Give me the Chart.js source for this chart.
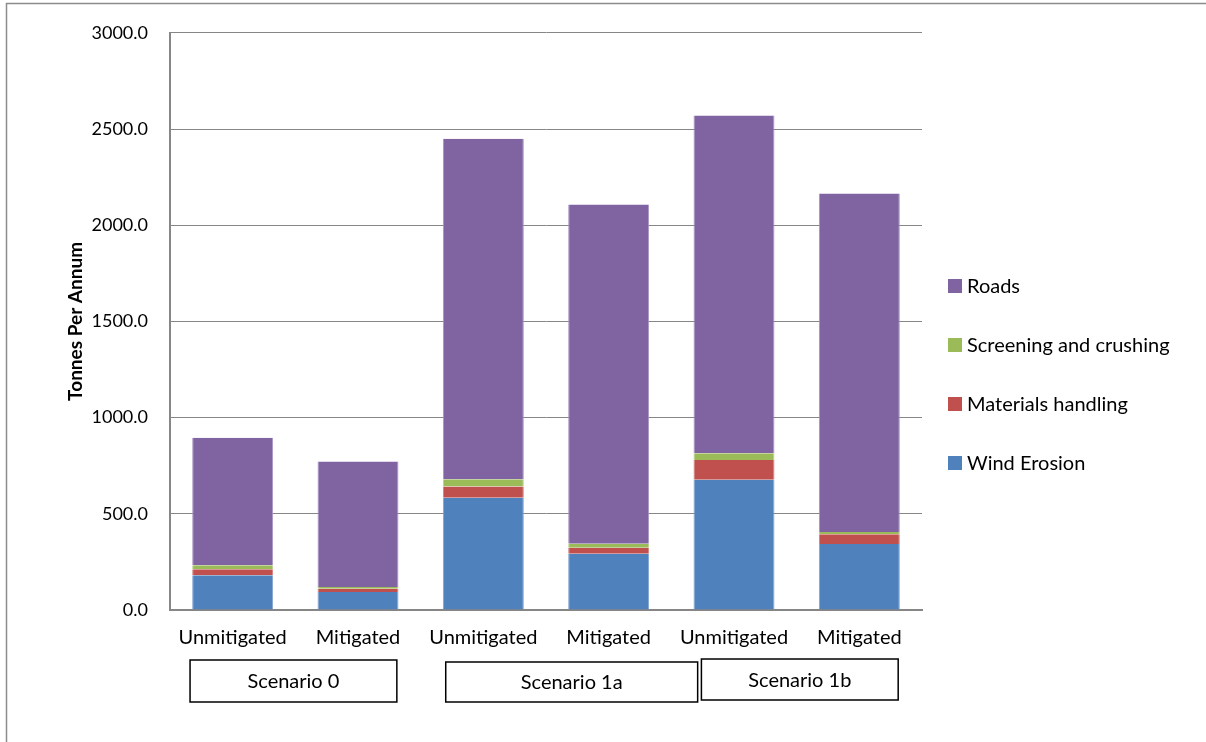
<!DOCTYPE html>
<html>
<head>
<meta charset="utf-8">
<script src="https://cdn.jsdelivr.net/npm/chart.js@4/dist/chart.umd.min.js"></script>
<style>
  html, body { margin: 0; padding: 0; background: #fff; }
  #box { width: 1206px; height: 742px; position: relative; }
</style>
</head>
<body>
<div id="box"><canvas id="DustChart" width="1206" height="742"></canvas></div>
<script>
// categories along the x axis
var cases = ["Unmitigated", "Mitigated", "Unmitigated", "Mitigated", "Unmitigated", "Mitigated"];
var scenarios = ["Scenario 0", "Scenario 1a", "Scenario 1b"];

// emissions per source, tonnes per annum
var windErosion = [180, 93, 584, 292, 677, 343];
var materialsHandling = [32, 17, 58, 31, 102, 51];
var screeningCrushing = [20, 10, 37, 21, 36, 12];
var roads = [663, 652, 1770, 1763, 1755, 1759];

var yTicks = [0, 500, 1000, 1500, 2000, 2500, 3000];

var FONT = "Lato, 'DejaVu Sans', sans-serif";
var GRID = "#868686";

// scenario boxes under the category labels, spans given in category units
var scenarioSpans = [
    { from: -0.34, to: 1.31, top: 660, bottom: 702 },
    { from: 1.70, to: 3.71, top: 662, bottom: 702 },
    { from: 3.74, to: 5.31, top: 659, bottom: 700 }
];

const scenarioBoxes = {
    id: "scenarioBoxes",
    afterDraw(chart) {
        const c = chart.ctx;
        const x = chart.scales.x;
        const step = x.getPixelForValue(1) - x.getPixelForValue(0);
        const x0 = x.getPixelForValue(0);
        c.save();
        c.strokeStyle = "#000";
        c.lineWidth = 1.5;
        c.fillStyle = "#000";
        c.font = "20px " + FONT;
        c.textAlign = "center";
        c.textBaseline = "middle";
        scenarios.forEach((name, i) => {
            let s = scenarioSpans[i];
            let l = x0 + s.from * step;
            let r = x0 + s.to * step;
            c.strokeRect(l, s.top, r - l, s.bottom - s.top);
            c.fillText(name, (l + r) / 2, (s.top + s.bottom) / 2 + 1);
        });
        c.restore();
    }
};

// legend on the right, top to bottom in reverse stacking order
const sideLegend = {
    id: "sideLegend",
    afterDraw(chart) {
        const c = chart.ctx;
        const sets = chart.data.datasets.slice().reverse();
        c.save();
        c.font = "20px " + FONT;
        c.textBaseline = "middle";
        c.textAlign = "left";
        sets.forEach((ds, i) => {
            let cy = 286 + i * 59;
            c.fillStyle = ds.backgroundColor;
            c.fillRect(948, cy - 7, 14, 14);
            c.fillStyle = "#000";
            c.fillText(ds.label, 967, cy + 1);
        });
        c.restore();
    }
};

const outerFrame = {
    id: "outerFrame",
    afterDraw(chart) {
        const c = chart.ctx;
        c.save();
        c.strokeStyle = "#8c8c8c";
        c.lineWidth = 1.5;
        c.strokeRect(6.5, 3.5, 1300, 800);
        c.restore();
    }
};

const ctx = document.getElementById("DustChart");

new Chart(ctx, {
    type: "bar",
    data: {
        labels: cases,
        datasets: [
            { label: "Wind Erosion", data: windErosion, backgroundColor: "#4F81BD", borderColor: "#7fa3d1" },
            { label: "Materials handling", data: materialsHandling, backgroundColor: "#C0504D", borderColor: "#d27f7d" },
            { label: "Screening and crushing", data: screeningCrushing, backgroundColor: "#9BBB59", borderColor: "#b8d087" },
            { label: "Roads", data: roads, backgroundColor: "#8064A2", borderColor: "#a893c2" }
        ]
    },
    options: {
        responsive: false,
        animation: false,
        datasets: {
            bar: {
                borderWidth: { left: 1, right: 1, top: 0, bottom: 0 },
                barPercentage: 0.646,
                categoryPercentage: 1
            }
        },
        layout: { padding: { left: 10, right: 284, top: 32, bottom: 0 } },
        plugins: {
            legend: { display: false },
            tooltip: { enabled: false }
        },
        scales: {
            x: {
                stacked: true,
                grid: { display: false, drawTicks: false },
                border: { color: GRID, width: 2 },
                ticks: { color: "#000", font: { family: FONT, size: 20 }, padding: 16, maxRotation: 0, autoSkip: false },
                afterFit: (scale) => { scale.height = 132; }
            },
            y: {
                stacked: true,
                min: 0,
                max: 3000,
                afterBuildTicks: (scale) => { scale.ticks = yTicks.map(v => ({ value: v })); },
                grid: { color: GRID, lineWidth: 1, drawTicks: false },
                border: { color: GRID, width: 2 },
                ticks: {
                    color: "#000",
                    font: { family: FONT, size: 18 },
                    padding: 22,
                    callback: (v) => Number(v).toFixed(1)
                },
                title: {
                    display: true,
                    text: "Tonnes Per Annum",
                    color: "#000",
                    font: { family: FONT, size: 19, weight: "bold" },
                    padding: { top: 54, bottom: 0 }
                },
                afterFit: (scale) => { scale.width = 160; }
            }
        }
    },
    plugins: [scenarioBoxes, sideLegend, outerFrame]
});
</script>
</body>
</html>
